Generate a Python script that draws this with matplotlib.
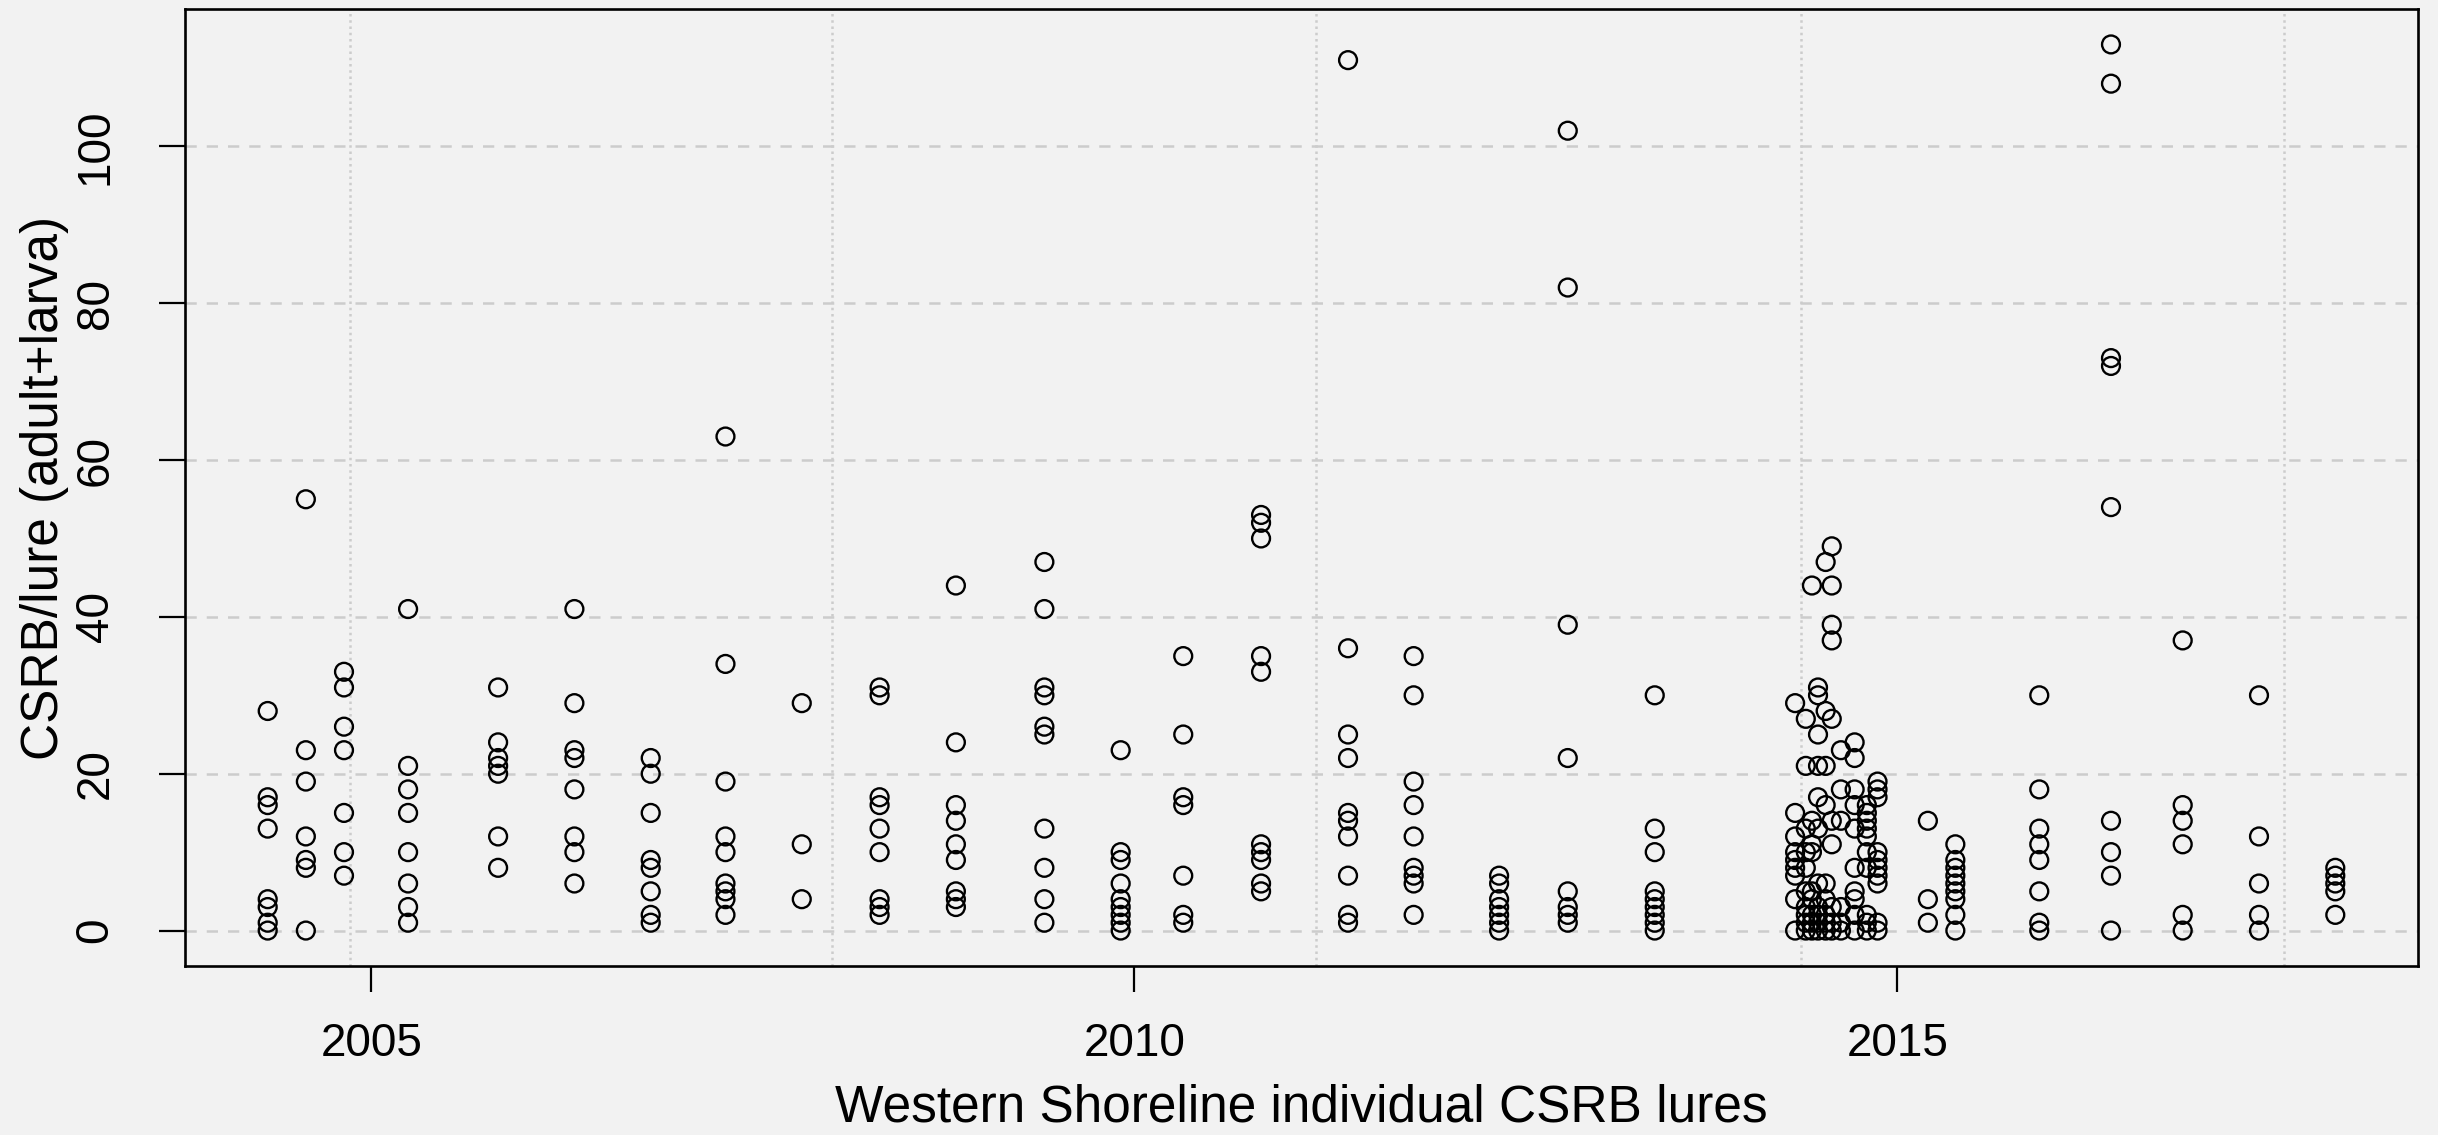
import matplotlib
matplotlib.use("Agg")
import matplotlib.pyplot as plt
import numpy as np

# ---- data (decimal-year lure check dates and CSRB counts per lure) ----
lure_dates = [
    2004.32, 2004.57, 2004.82, 2005.24, 2005.83, 2006.33, 2006.83, 2007.32,
    2007.82, 2008.33, 2008.83, 2009.41, 2009.91, 2010.32, 2010.83, 2011.40,
    2011.83, 2012.39, 2012.84, 2013.41,
    2014.33, 2014.40, 2014.44, 2014.48, 2014.53, 2014.57, 2014.63, 2014.72,
    2014.80, 2014.87,
    2015.20, 2015.38, 2015.93, 2016.40, 2016.87, 2017.37, 2017.87,
]
lure_counts = [
    [28, 17, 16, 13, 4, 3, 1, 0],
    [55, 23, 19, 12, 9, 8, 0],
    [33, 31, 26, 23, 15, 10, 7],
    [41, 21, 18, 15, 10, 6, 3, 1],
    [31, 24, 22, 21, 20, 12, 8],
    [41, 29, 23, 22, 18, 12, 10, 6],
    [22, 20, 15, 9, 8, 5, 2, 1],
    [63, 34, 19, 12, 10, 6, 5, 4, 2],
    [29, 11, 4],
    [31, 30, 17, 16, 13, 10, 4, 3, 2],
    [44, 24, 16, 14, 11, 9, 5, 4, 3],
    [47, 41, 31, 30, 26, 25, 13, 8, 4, 1],
    [23, 10, 9, 6, 4, 3, 2, 1, 0],
    [35, 25, 17, 16, 7, 2, 1],
    [53, 52, 50, 35, 33, 11, 10, 9, 6, 5],
    [111, 36, 25, 22, 15, 14, 12, 7, 2, 1],
    [35, 30, 19, 16, 12, 8, 7, 6, 2],
    [7, 6, 4, 3, 2, 1, 0],
    [102, 82, 39, 22, 5, 3, 2, 1],
    [30, 13, 10, 5, 4, 3, 2, 1, 0],
    [29, 15, 12, 10, 9, 8, 7, 4, 0],
    [27, 21, 13, 10, 8, 5, 3, 2, 1, 0],
    [44, 14, 11, 10, 5, 4, 2, 1, 0],
    [31, 30, 25, 21, 17, 13, 6, 3, 2, 1, 0],
    [47, 28, 21, 16, 6, 4, 2, 1, 0],
    [49, 44, 39, 37, 27, 14, 11, 3, 1, 0],
    [23, 18, 14, 3, 1, 0],
    [24, 22, 18, 16, 13, 8, 5, 4, 2, 0],
    [16, 15, 14, 13, 12, 10, 8, 2, 1, 0],
    [19, 18, 17, 10, 9, 8, 7, 6, 1, 0],
    [14, 4, 1],
    [11, 9, 8, 7, 6, 5, 4, 2, 0],
    [30, 18, 13, 11, 9, 5, 1, 0],
    [113, 108, 73, 72, 54, 14, 10, 7, 0],
    [37, 16, 14, 11, 2, 0],
    [30, 12, 6, 2, 0],
    [8, 7, 6, 5, 2],
]
x_ticks = [2005, 2010, 2015]
x_tick_labels = ["2005", "2010", "2015"]
y_ticks = [0, 20, 40, 60, 80, 100]
y_tick_labels = ["0", "20", "40", "60", "80", "100"]
grid_x = [2004.858, 2008.021, 2011.188, 2014.371, 2017.531]
x_label = "Western Shoreline individual CSRB lures"
y_label = "CSRB/lure (adult+larva)"

xs = np.concatenate([[d] * len(c) for d, c in zip(lure_dates, lure_counts)])
ys = np.concatenate([np.asarray(c, float) for c in lure_counts])

# ---- figure ----
plt.rcParams['font.family'] = ['Liberation Sans', 'DejaVu Sans']
BG = '#f2f2f2'
W, H = 2438, 1135
fig = plt.figure(figsize=(W / 100, H / 100), dpi=100, facecolor=BG)
L, R, T, B = 185, 2418, 9, 966
ax = fig.add_axes([L / W, 1 - B / H, (R - L) / W, (B - T) / H])
ax.set_facecolor(BG)

# R-style 4% axis extension
xr = xs.max() - xs.min()
yr = ys.max() - ys.min()
ax.set_xlim(xs.min() - 0.04 * xr, xs.max() + 0.04 * xr)
ax.set_ylim(ys.min() - 0.04 * yr, ys.max() + 0.04 * yr)

# grid
for yv in y_ticks:
    ax.axhline(yv, color='#cccccc', lw=1.8, ls=(0, (4.5, 4)), zorder=1)
for xv in grid_x:
    ax.axvline(xv, color='#cccccc', lw=1.8, ls=(0, (1, 1.5)), zorder=1)

ax.scatter(xs, ys, s=165, facecolors='none', edgecolors='black',
           linewidths=1.7, zorder=3)

ax.set_xticks(x_ticks)
ax.set_xticklabels(x_tick_labels)
ax.set_yticks(y_ticks)
ax.set_yticklabels(y_tick_labels, rotation=90, va='center')
ax.tick_params(axis='both', direction='out', length=18.5, width=1.6,
               labelsize=33, colors='black')
ax.tick_params(axis='x', pad=22)
ax.tick_params(axis='y', pad=30)

for sp in ax.spines.values():
    sp.set_linewidth(1.9)
    sp.set_color('black')

ax.set_xlabel(x_label, fontsize=37)
ax.xaxis.label.set_va('baseline')
ax.xaxis.set_label_coords(0.5, (B - 1122) / (B - T))
ax.set_ylabel(y_label, fontsize=37)
ax.yaxis.label.set_va('baseline')
ax.yaxis.set_label_coords((58 - L) / (R - L), 0.5)

fig.savefig('out.png', dpi=100, facecolor=BG)
